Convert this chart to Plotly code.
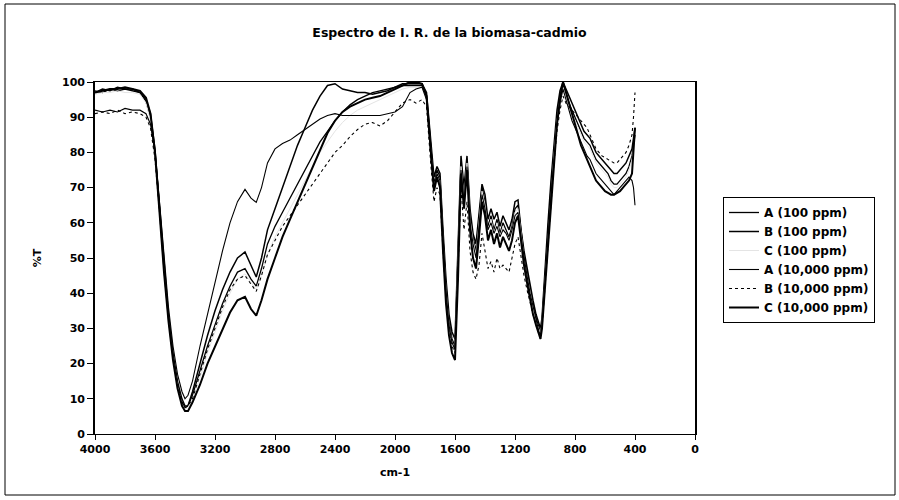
import plotly.graph_objects as go

# ---------------- data (wavenumber grid, %T values) ----------------
wn_seg1 = [4000, 3950, 3900, 3850, 3800, 3750, 3700, 3660, 3630, 3600, 3570, 3540, 3510, 3480, 3450, 3420, 3400, 3380, 3350]
wn_seg2 = [3300, 3250, 3200, 3150, 3100, 3050, 3000, 2960, 2925, 2890, 2850, 2800, 2750, 2700, 2650, 2600, 2550, 2500, 2450, 2400,
           2350, 2300, 2250, 2200, 2150, 2100, 2050, 2000, 1950, 1900]
wn_seg3 = [1860, 1820, 1790, 1760, 1740, 1720, 1700, 1680, 1660, 1640, 1620, 1600, 1580, 1560, 1540, 1520, 1500, 1480, 1460, 1440,
           1420, 1400, 1380, 1360, 1340, 1320, 1300, 1280, 1260, 1240, 1220, 1200, 1180, 1160, 1140, 1120, 1100, 1080, 1060, 1040,
           1030, 1020]
wn_seg4 = [1000, 980, 960, 940, 920, 900, 880, 860, 840, 820, 800, 780, 760, 740, 720, 700, 680, 660, 640, 620,
           600, 580, 560, 540, 520, 500, 480, 460, 440, 420, 410, 400]
wavenumber = wn_seg1 + wn_seg2 + wn_seg3 + wn_seg4

a_100 = ([97.5, 97, 98, 97.5, 98, 97.5, 97, 95, 91, 81, 65, 48, 34, 23, 15, 10, 8, 8, 11] +
         [18, 25, 31, 37, 42, 46, 47, 44, 42, 47, 54, 59, 63, 67, 71, 75, 79, 83, 86, 89, 91.5, 93.5, 95, 96, 97, 97.5, 98, 98.5, 99, 99] +
         [99, 99, 96, 80, 71, 75, 73, 56, 42, 32, 27, 25, 50, 77, 68, 78, 62, 56, 52, 60, 70, 66, 59, 62, 58, 61, 57, 60, 58, 56,
          59, 64, 65, 57, 51, 46, 41, 37, 33, 30, 29, 32] +
         [45, 58, 70, 80, 90, 96, 99.5, 97, 94, 92, 90, 88, 86, 84, 83, 82, 80, 78, 77, 76, 75, 74, 72, 71, 71, 72, 73, 74, 76, 79, 82, 85])

b_100 = ([97, 98, 97.5, 98.5, 98, 98, 97, 94.5, 90, 80, 64, 47, 33, 22, 14, 9, 7.5, 8, 12] +
         [20, 28, 35, 41, 46, 50, 51.7, 48, 44.6, 50, 58, 64, 70, 76, 82, 87, 92, 96, 99, 99.5, 98, 97.5, 97, 97, 96.5, 97, 97.5, 98.5, 99.5, 99.5] +
         [99.5, 99.5, 97, 82, 73, 76, 74, 58, 44, 34, 29, 27, 54, 79, 70, 79, 64, 57, 54, 62, 71, 68, 61, 64, 61, 63, 59, 62, 60, 58,
          61, 66, 66.5, 58, 52, 47, 42, 38, 34, 31, 30, 33] +
         [48, 60, 72, 82, 92, 97.5, 100, 98, 96, 94, 92, 90, 88, 86, 85, 84, 82, 80, 79, 78, 77, 76, 75, 74, 74, 75, 76, 77, 79, 81, 84, 87])

c_100 = ([96.5, 97, 97, 97.5, 97, 97, 96.5, 94, 89, 79, 63, 46, 32, 21, 13.5, 8.5, 7, 7.5, 10] +
         [16, 23, 29, 35, 40, 44, 45.5, 43, 41, 45, 51, 56, 60, 64, 68, 72, 76, 80, 83, 86, 88.5, 90.5, 92, 93, 94, 95, 96, 97, 98, 98.5] +
         [98.5, 98.5, 95, 79, 70, 74, 72, 55, 41, 31, 26, 24.5, 49, 76, 67, 77, 61, 55, 51, 59, 69, 65, 58, 61, 57, 60, 56, 59, 57, 55,
          58, 63, 64, 56, 50, 45, 40, 36, 32, 29.5, 28.5, 31.5] +
         [44, 57, 69, 79, 89, 95, 99, 96, 93, 91, 89, 87, 85, 83, 82, 81, 79, 77, 76, 75, 74, 73, 71, 70, 70, 71, 72, 73, 75, 78, 81, 84])

a_10000 = ([92, 91.5, 92, 91.5, 92.5, 92, 92, 91, 88, 80, 66, 50, 36, 25, 17, 12, 10, 11, 15] +
           [25, 34, 43, 52, 60, 66, 69.5, 67, 65.8, 70, 77, 81, 82.5, 83.5, 85, 86.5, 88, 89.5, 90.5, 91, 90.5, 90.5, 90.5, 90.5, 90.5, 90.5, 91, 91.5, 93, 97] +
           [98, 98.5, 95, 78, 70, 74, 72, 55, 41, 31, 26, 24, 48, 75, 66, 76, 60, 54, 50, 58, 68, 64, 58, 60, 57, 59, 56, 58, 57, 55,
            58, 62, 63, 56, 50, 45, 40, 36, 32, 29, 28, 31] +
           [43, 56, 68, 78, 88, 94, 98, 95, 92, 89, 87, 85, 83, 81, 79, 78, 76, 74, 73, 72, 71, 70, 69, 68, 69, 70, 71, 72, 73, 72, 70, 65])

b_10000 = ([91, 91.5, 91, 92, 91, 91.5, 91, 90, 87, 78, 63, 47, 33, 22, 14, 9, 7.5, 8, 10] +
           [17, 24, 30, 36, 41, 44, 45, 42.5, 40.5, 45, 51, 55, 59, 62, 65, 68, 71, 74, 77, 80, 82, 84.5, 86.5, 88, 88.5, 87.5, 89, 91.5, 94, 95] +
           [94, 95, 93, 76, 66, 70, 68, 52, 38, 29, 25, 23, 45, 70, 58, 66, 52, 46, 44, 48, 57, 52, 47, 49, 46, 50, 47, 48, 47, 46,
            50, 54, 56, 50, 45, 41, 37, 34, 31, 28, 27, 30] +
           [42, 55, 67, 77, 86, 92, 96, 94, 93, 92, 91, 90, 89, 88, 87, 85, 83, 81, 80, 79, 78.5, 78, 77.5, 77, 77, 78, 79, 80, 82, 85, 90, 97])

c_10000 = ([97, 97.5, 98, 98, 98.5, 98, 97.5, 95.5, 91, 80, 63, 46, 32, 21, 13, 8, 6.5, 6.5, 9] +
           [14, 20, 25, 30, 34.5, 38, 39, 35.5, 33.6, 38, 44, 50, 56, 61, 66, 71, 76, 81, 85.5, 89, 91.5, 93, 94, 95, 95.5, 96, 97, 98, 99, 100] +
           [100, 99.5, 96, 79, 69, 73, 70, 52, 37, 28, 23, 21, 44, 74, 64, 75, 58, 50, 47, 56, 66, 62, 55, 58, 54, 57, 53, 56, 54, 52,
            55, 60, 62, 54, 48, 43, 38, 34, 31, 28, 27, 30] +
           [42, 55, 67, 78, 88, 95, 100, 97, 94, 91, 88, 85, 82, 80, 78, 76, 74, 72, 71, 70, 69, 68.5, 68, 68, 68.5, 69, 70, 71, 72, 74, 80, 87])

series_names = ["A (100 ppm)", "B (100 ppm)", "C (100 ppm)", "A (10,000 ppm)", "B (10,000 ppm)", "C (10,000 ppm)"]
series_values = [a_100, b_100, c_100, a_10000, b_10000, c_10000]
x_ticks = [4000, 3600, 3200, 2800, 2400, 2000, 1600, 1200, 800, 400, 0]
y_ticks = [0, 10, 20, 30, 40, 50, 60, 70, 80, 90, 100]

for v in series_values:
    assert len(v) == len(wavenumber), (len(v), len(wavenumber))

# ---------------- styles ----------------
styles = [
    dict(color="#000000", width=1.3, dash="solid"),
    dict(color="#000000", width=1.5, dash="solid"),
    dict(color="#e4e4e4", width=1.0, dash="solid"),
    dict(color="#000000", width=1.1, dash="solid"),
    dict(color="#000000", width=1.1, dash="dot"),
    dict(color="#000000", width=2.0, dash="solid"),
]

FONT = "DejaVu Sans"
fig = go.Figure()
for name, vals, st in zip(series_names, series_values, styles):
    fig.add_trace(go.Scatter(x=wavenumber, y=vals, mode="lines", name=name, line=st))

L, R, T, B = 95, 695, 82, 434
W, H = 899, 500

def px(xp):
    return (xp - L) / (R - L)

def py(yp):
    return (B - yp) / (B - T)

fig.update_layout(
    width=W, height=H,
    margin=dict(l=L, r=W - R, t=T, b=H - B, pad=0),
    paper_bgcolor="white", plot_bgcolor="white",
    font=dict(family=FONT, size=11, color="black"),
    title=dict(text="Espectro de I. R. de la biomasa-cadmio", x=0.5, xref="container", xanchor="center",
               y=1 - 33 / H, yref="container", yanchor="middle",
               font=dict(family=FONT, size=12.5, color="black", weight="bold")),
    showlegend=True,
    legend=dict(x=px(723), xanchor="left", y=py(197), yanchor="top",
                bordercolor="black", borderwidth=1, bgcolor="white",
                font=dict(family=FONT, size=12, color="black", weight="bold"),
                tracegroupgap=0, itemwidth=30),
    xaxis=dict(range=[4000, 0], tickvals=x_ticks, ticktext=[str(t) for t in x_ticks],
               showgrid=False, zeroline=False, showline=True, linecolor="black", linewidth=1.2,
               mirror=True, ticks="outside", ticklen=5, tickcolor="black",
               tickfont=dict(family=FONT, size=11, color="black", weight="bold"),
               title=dict(text="cm-1", font=dict(family=FONT, size=11, color="black", weight="bold"), standoff=13)),
    yaxis=dict(range=[0, 100], tickvals=y_ticks, showgrid=False, zeroline=False,
               showline=True, linecolor="black", linewidth=1.6, mirror=True,
               ticks="outside", ticklen=6, tickcolor="black",
               tickfont=dict(family=FONT, size=11, color="black", weight="bold"),
               title=dict(text="%T", font=dict(family=FONT, size=11, color="black", weight="bold"), standoff=18)),
)

# outer chart border
fig.add_shape(type="rect", xref="paper", yref="paper",
              x0=px(5), x1=px(895), y0=py(495), y1=py(4),
              line=dict(color="black", width=1), fillcolor="rgba(0,0,0,0)", layer="below")

fig.write_html("out.html")
